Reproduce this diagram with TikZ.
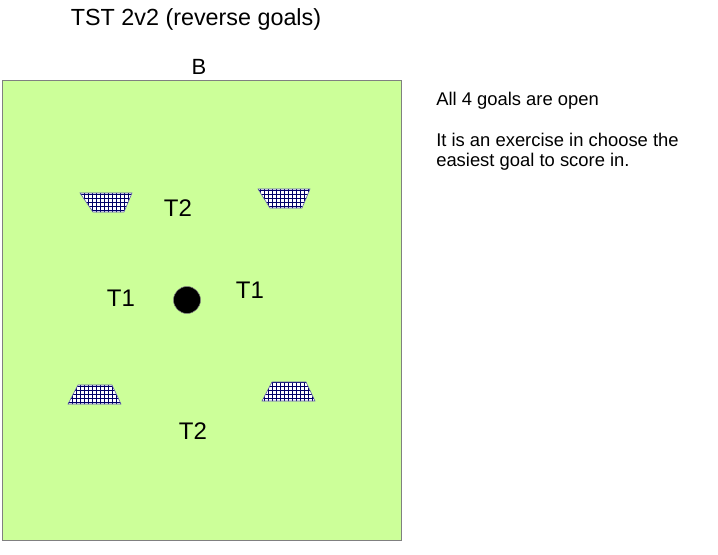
\documentclass[tikz,border=0pt]{standalone}
\usepackage{fontspec}
\setmainfont{Liberation Sans}
\usetikzlibrary{patterns}
\begin{document}
\begin{tikzpicture}[x=0.75pt,y=-0.75pt,
  goal/.style={draw=gray!70!blue, pattern=grid, pattern color=blue!40!black},
  lab/.style={font=\fontsize{18}{20}\selectfont, inner sep=0pt},
  note/.style={font=\fontsize{13.8}{15}\selectfont, inner sep=0pt, anchor=west, align=left}]
\useasboundingbox (0,0) rectangle (718,554);
\fill[white] (0,0) rectangle (718,554);
\draw[fill={rgb,255:red,204;green,255;blue,153}, draw=gray] (2,80) rectangle (401,540);
\fill[white] (80,193) -- (132,193) -- (124,212) -- (93,212) -- cycle;
\draw[goal] (80,193) -- (132,193) -- (124,212) -- (93,212) -- cycle;
\fill[white] (258,189) -- (310,189) -- (302,208) -- (270,208) -- cycle;
\draw[goal] (258,189) -- (310,189) -- (302,208) -- (270,208) -- cycle;
\fill[white] (78,385) -- (112,385) -- (121,404) -- (68,404) -- cycle;
\draw[goal] (78,385) -- (112,385) -- (121,404) -- (68,404) -- cycle;
\fill[white] (272,382) -- (306,382) -- (315,401) -- (262,401) -- cycle;
\draw[goal] (272,382) -- (306,382) -- (315,401) -- (262,401) -- cycle;
\node[circle, fill=black, draw=gray, minimum size=27*0.75pt, inner sep=0pt] (ball) at (187,300) {};
\node[lab, font=\fontsize{17.5}{20}\selectfont] (title) at (196,19) {TST 2v2 (reverse goals)};
\node[lab, font=\fontsize{16.5}{18}\selectfont] (b) at (199,67) {B};
\node[lab] (t2a) at (178,208) {T2};
\node[lab] (t1a) at (121,298) {T1};
\node[lab] (t1b) at (250,290) {T1};
\node[lab] (t2b) at (193,431) {T2};
\node[note] (n1) at (436,101) {All 4 goals are open};
\node[note] (n2) at (436,152) {It is an exercise in choose the\\easiest goal to score in.};
\end{tikzpicture}
\end{document}
